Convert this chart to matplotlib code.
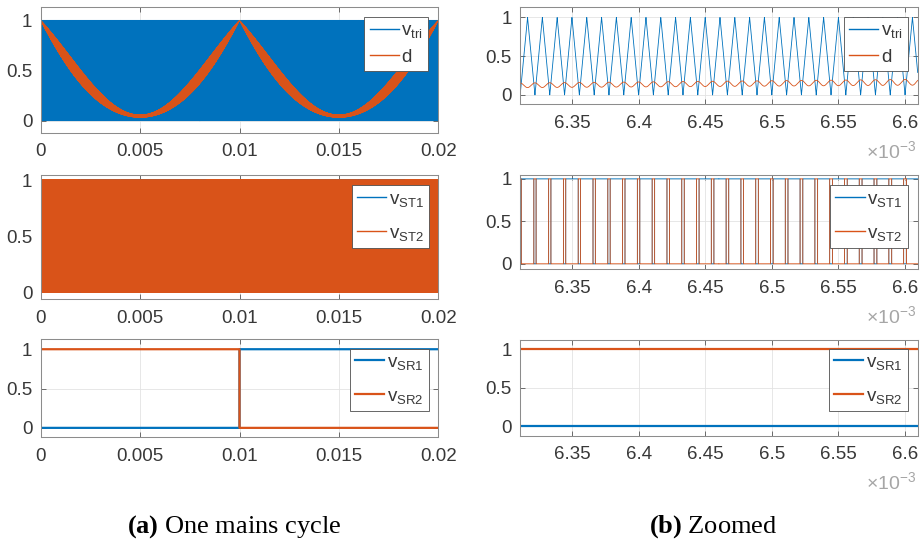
import numpy as np
import matplotlib
import matplotlib.pyplot as plt
from matplotlib.lines import Line2D

matplotlib.rcParams['agg.path.chunksize'] = 20000
plt.rcParams['font.family'] = ['Liberation Sans', 'DejaVu Sans']
plt.rcParams['mathtext.fontset'] = 'custom'
plt.rcParams['mathtext.rm'] = 'Liberation Sans'
plt.rcParams['mathtext.it'] = 'Liberation Sans:italic'
plt.rcParams['mathtext.bf'] = 'Liberation Serif:bold'

BLUE = '#0072BD'
ORANGE = '#D95319'
TXT = '#383838'

# values
F_SW = 90e3           # carrier: 9 periods between 6.35 ms and 6.45 ms
F_MAINS = 50.0        # one mains cycle = 0.02 s
D_DEPTH = 0.955       # d bottoms out at ~0.045
RIPPLE_GAIN = 0.55    # d ripple ~0.06 p-p where d ~ 0.13
T_ZC = 0.01           # SR commutation at the zero crossing

full_xlim = [0, 0.02]
zoom_xlim = [6.311e-3, 6.6095e-3]
full_xticks = [0, 0.005, 0.01, 0.015, 0.02]
full_xticklabels = ['0', '0.005', '0.01', '0.015', '0.02']
zoom_xticks = [6.35e-3, 6.4e-3, 6.45e-3, 6.5e-3, 6.55e-3, 6.6e-3]
zoom_xticklabels = ['6.35', '6.4', '6.45', '6.5', '6.55', '6.6']
yticks = [0, 0.5, 1]
yticklabels = ['0', '0.5', '1']

labels_tri = [r'v$_{\mathrm{tri}}$', 'd']
labels_st = [r'v$_{\mathrm{ST1}}$', r'v$_{\mathrm{ST2}}$']
labels_sr = [r'v$_{\mathrm{SR1}}$', r'v$_{\mathrm{SR2}}$']


def carrier(t):
    ph = (t * F_SW) % 1.0
    return 1 - 2 * np.abs(ph - 0.5)


def duty(t):
    d0 = 1 - D_DEPTH * np.abs(np.sin(2 * np.pi * F_MAINS * t))
    return d0 + 0.5 * RIPPLE_GAIN * d0 * (1 - d0) * np.cos(2 * np.pi * F_SW * t)


def signals(t):
    tri = carrier(t)
    d = duty(t)
    st2 = (tri < d).astype(float)
    st1 = 1 - st2
    return tri, d, st1, st2


W, H = 923, 545
fig = plt.figure(figsize=(W / 100, H / 100), dpi=100)


def add_axes(x0, x1, top, bottom):
    return fig.add_axes([x0 / W, 1 - bottom / H, (x1 - x0) / W, (bottom - top) / H])


def style(ax, xlim, ylim, xticks, xticklabels):
    ax.set_xlim(xlim)
    ax.set_ylim(ylim)
    ax.set_xticks(xticks)
    ax.set_xticklabels(xticklabels)
    ax.set_yticks(yticks)
    ax.set_yticklabels(yticklabels)
    ax.tick_params(direction='in', length=3.5, width=0.5, color=TXT, labelcolor=TXT,
                   labelsize=13.5, top=True, right=True)
    ax.tick_params(axis='x', pad=7.5)
    ax.tick_params(axis='y', pad=6)
    ax.grid(True, color='#e3e3e3', lw=0.6)
    ax.set_axisbelow(True)
    for s in ax.spines.values():
        s.set_color('#8c8c8c')
        s.set_linewidth(0.75)


def legend(ax, labels, lw, x1, top, spacing):
    handles = [Line2D([], [], color=BLUE, lw=lw), Line2D([], [], color=ORANGE, lw=lw)]
    leg = ax.legend(handles, labels, loc='upper right', bbox_to_anchor=(x1 / W, 1 - top / H),
                    bbox_transform=fig.transFigure, borderaxespad=0, fontsize=13.5,
                    fancybox=False, framealpha=1, edgecolor='#4d4d4d', handlelength=1.55,
                    handletextpad=0.15, borderpad=0.28, labelspacing=spacing)
    leg.get_frame().set_linewidth(0.6)
    for txt in leg.get_texts():
        txt.set_color(TXT)


# grids: dense enough for the whole cycle, fine for the zoom
t_full = np.linspace(full_xlim[0], full_xlim[1], int(0.02 * F_SW * 50) + 1)
t_zoom = np.linspace(zoom_xlim[0], zoom_xlim[1], 20000)

LX0, LX1 = 40.7, 438.3
RX0, RX1 = 520.0, 917.7
ylim13 = [-0.12, 1.13]
ylim2 = [-0.065, 1.045]

columns = [
    (t_full, LX0, LX1, [(7.3, 132.7), (175, 299.3), (339, 437.3)], full_xlim,
     full_xticks, full_xticklabels, [428.3, 429, 429]),
    (t_zoom, RX0, RX1, [(7.3, 104.3), (175, 269.3), (339.5, 435.5)], zoom_xlim,
     zoom_xticks, zoom_xticklabels, [907.7, 907.7, 907.7]),
]
legend_tops = [16.7, 185.5, 348.5]

for t, x0, x1, rows, xlim, xt, xtl, legx in columns:
    tri, d, st1, st2 = signals(t)
    t_sr = t[::50]
    sr1 = (t_sr >= T_ZC).astype(float)
    sr2 = 1 - sr1
    thin = 0.6

    ax = add_axes(x0, x1, *rows[0])
    ax.plot(t, tri, color=BLUE, lw=thin)
    ax.plot(t, d, color=ORANGE, lw=thin)
    style(ax, xlim, ylim13, xt, xtl)
    legend(ax, labels_tri, 1.0, legx[0], legend_tops[0], 0.45)

    ax = add_axes(x0, x1, *rows[1])
    ax.plot(t, st1, color=BLUE, lw=thin, drawstyle='steps-post')
    ax.plot(t, st2, color=ORANGE, lw=thin, drawstyle='steps-post')
    style(ax, xlim, ylim2, xt, xtl)
    legend(ax, labels_st, 1.0, legx[1], legend_tops[1], 0.85)

    ax = add_axes(x0, x1, *rows[2])
    ax.plot(t_sr, sr1, color=BLUE, lw=1.6, drawstyle='steps-post')
    ax.plot(t_sr, sr2, color=ORANGE, lw=1.6, drawstyle='steps-post')
    style(ax, xlim, ylim13, xt, xtl)
    legend(ax, labels_sr, 1.6, legx[2], legend_tops[2], 0.85)

    if t is t_zoom:
        for top, bottom in rows:
            fig.text(916 / W, 1 - (bottom + 47) / H, r'$\times10^{-3}$', ha='right',
                     va='center', color='#a6a6a6', fontsize=14)

fig.text(234.5 / W, 1 - 527 / H, r'$\mathbf{(a)}$ One mains cycle', ha='center', va='center',
         family='Liberation Serif', fontsize=19, color='black')
fig.text(713 / W, 1 - 527 / H, r'$\mathbf{(b)}$ Zoomed', ha='center', va='center',
         family='Liberation Serif', fontsize=19, color='black')

fig.savefig('out.png', dpi=100)
